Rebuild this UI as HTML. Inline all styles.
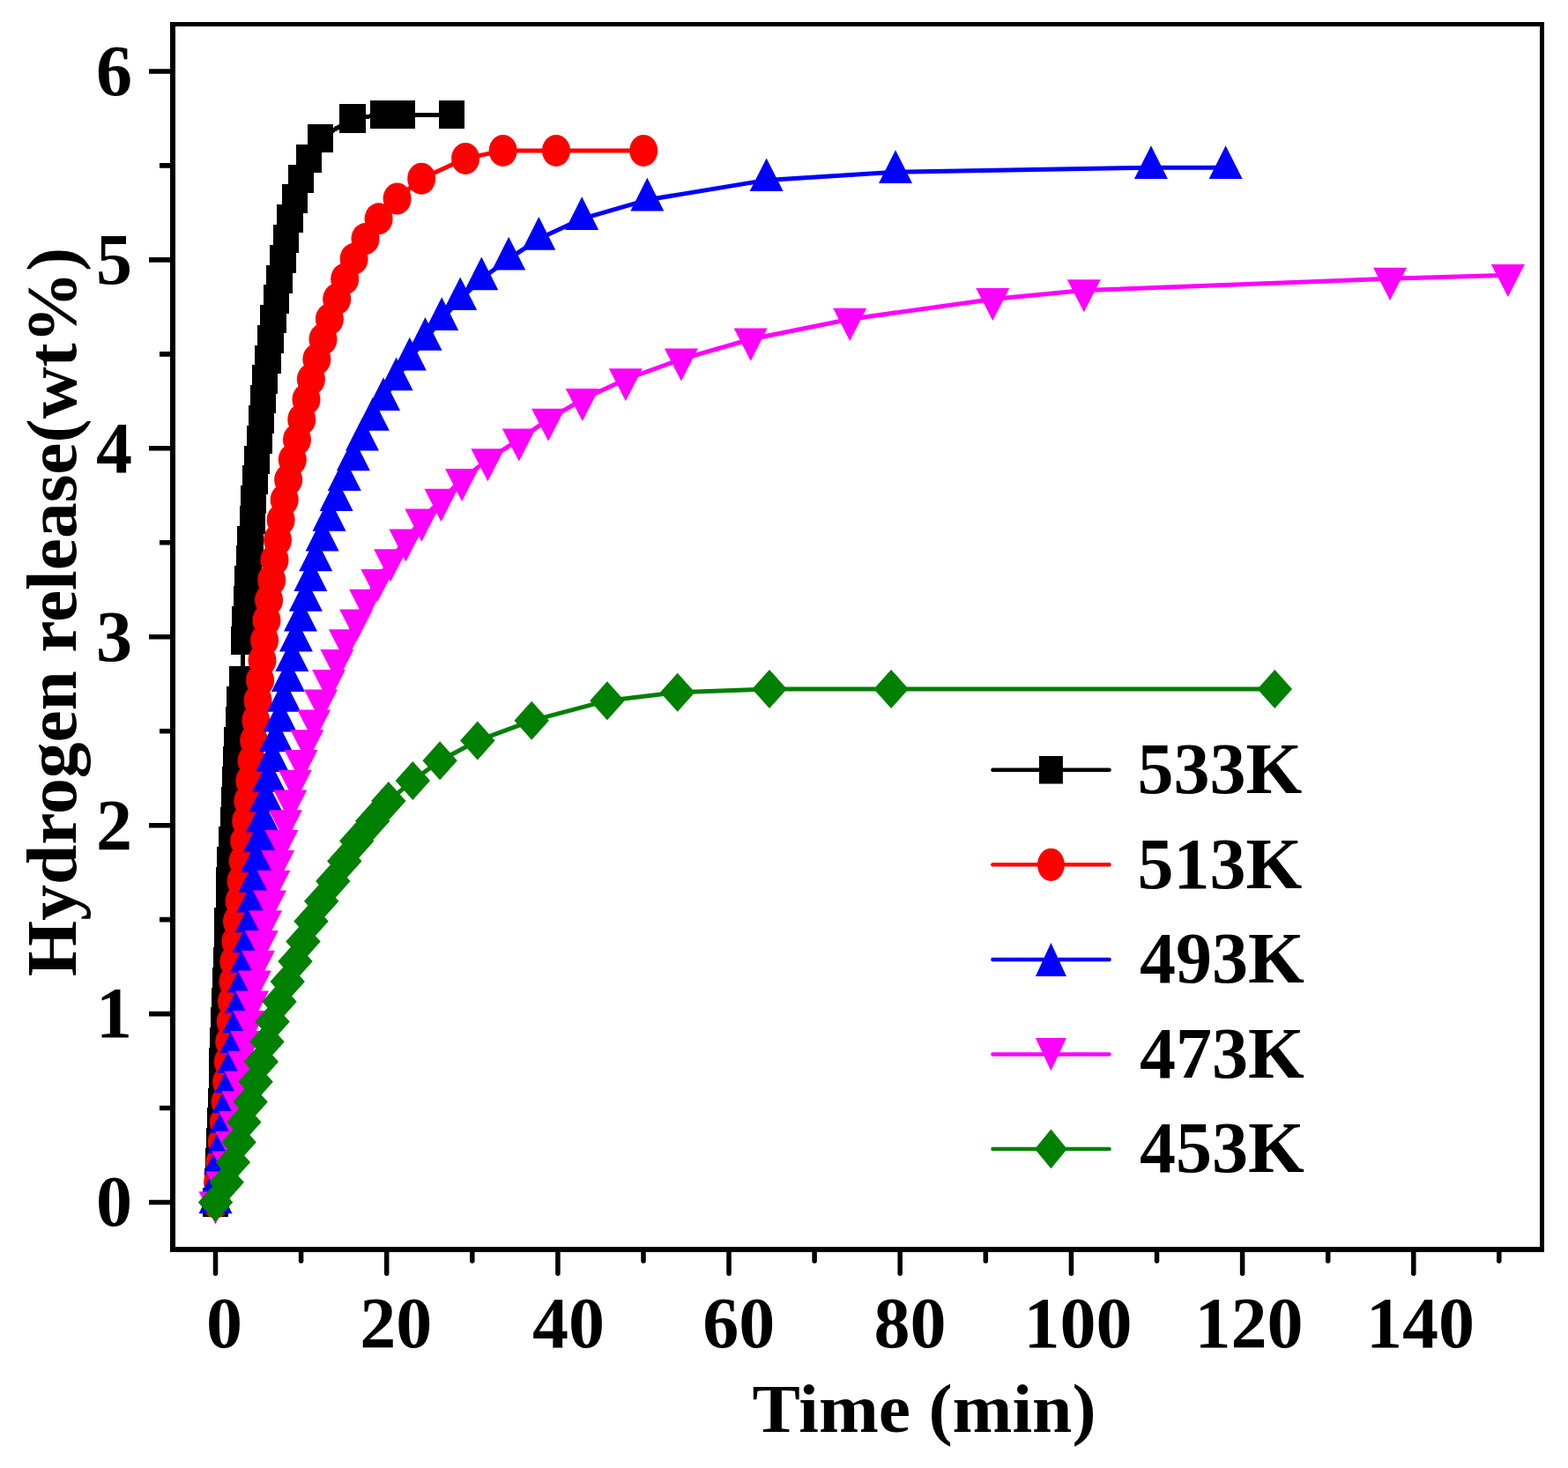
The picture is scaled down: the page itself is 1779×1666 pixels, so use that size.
<!DOCTYPE html>
<html><head><meta charset="utf-8"><title>Hydrogen release vs time</title>
<style>html,body{margin:0;padding:0;background:#fff;overflow:hidden}svg{display:block}</style>
</head><body>
<svg width="1779" height="1666" viewBox="0 0 1779 1666">
<rect width="1779" height="1666" fill="#fff"/>
<g shape-rendering="crispEdges">
<polyline fill="none" stroke="#000" stroke-width="5" stroke-linejoin="round" points="244.3,1364.5 246.4,1341.7 247.7,1318.9 248.5,1296.2 249.1,1273.4 250.3,1250.6 251.2,1227.8 251.9,1205 252.6,1182.3 253.6,1159.5 254.3,1136.7 255.5,1113.9 256.2,1091.1 257.1,1068.4 257.8,1045.6 259.2,1022.8 259.9,1000 261,977.2 262.5,954.5 264.2,931.7 265.7,908.9 266.7,886.1 267.6,863.3 268.8,840.6 270.5,817.8 272,795 274.1,772.2 276.8,726.7 277.7,703.9 279.2,681.1 280.6,658.3 282.4,635.5 283.9,612.8 286.2,590 287.6,567.2 289.3,544.4 291.4,521.6 294.1,498.9 296.8,476.1 298.6,453.3 300.4,430.5 304,407.7 307,385 310,362.2 313.7,339.4 317,316.6 321,293.8 324.5,271.1 329,248.3 334.4,225.5 341.6,202.7 350.5,179.9 363.1,157.2 400,134.4 434.4,130 445.5,130 456.5,130 512.5,130"/>
<path fill="#000" d="M229.7 1348.4h29.2v32.2h-29.2zM231.8 1325.6h29.2v32.2h-29.2zM233.1 1302.8h29.2v32.2h-29.2zM233.9 1280.1h29.2v32.2h-29.2zM234.5 1257.3h29.2v32.2h-29.2zM235.7 1234.5h29.2v32.2h-29.2zM236.6 1211.7h29.2v32.2h-29.2zM237.3 1188.9h29.2v32.2h-29.2zM238 1166.2h29.2v32.2h-29.2zM239 1143.4h29.2v32.2h-29.2zM239.7 1120.6h29.2v32.2h-29.2zM240.9 1097.8h29.2v32.2h-29.2zM241.6 1075h29.2v32.2h-29.2zM242.5 1052.3h29.2v32.2h-29.2zM243.2 1029.5h29.2v32.2h-29.2zM244.6 1006.7h29.2v32.2h-29.2zM245.3 983.9h29.2v32.2h-29.2zM246.4 961.1h29.2v32.2h-29.2zM247.9 938.4h29.2v32.2h-29.2zM249.6 915.6h29.2v32.2h-29.2zM251.1 892.8h29.2v32.2h-29.2zM252.1 870h29.2v32.2h-29.2zM253 847.2h29.2v32.2h-29.2zM254.2 824.5h29.2v32.2h-29.2zM255.9 801.7h29.2v32.2h-29.2zM257.4 778.9h29.2v32.2h-29.2zM259.5 756.1h29.2v32.2h-29.2zM262.2 710.6h29.2v32.2h-29.2zM263.1 687.8h29.2v32.2h-29.2zM264.6 665h29.2v32.2h-29.2zM266 642.2h29.2v32.2h-29.2zM267.8 619.4h29.2v32.2h-29.2zM269.3 596.7h29.2v32.2h-29.2zM271.6 573.9h29.2v32.2h-29.2zM273 551.1h29.2v32.2h-29.2zM274.7 528.3h29.2v32.2h-29.2zM276.8 505.5h29.2v32.2h-29.2zM279.5 482.8h29.2v32.2h-29.2zM282.2 460h29.2v32.2h-29.2zM284 437.2h29.2v32.2h-29.2zM285.8 414.4h29.2v32.2h-29.2zM289.4 391.6h29.2v32.2h-29.2zM292.4 368.9h29.2v32.2h-29.2zM295.4 346.1h29.2v32.2h-29.2zM299.1 323.3h29.2v32.2h-29.2zM302.4 300.5h29.2v32.2h-29.2zM306.4 277.7h29.2v32.2h-29.2zM309.9 255h29.2v32.2h-29.2zM314.4 232.2h29.2v32.2h-29.2zM319.8 209.4h29.2v32.2h-29.2zM327 186.6h29.2v32.2h-29.2zM335.9 163.8h29.2v32.2h-29.2zM348.5 141.1h29.2v32.2h-29.2zM385.4 118.3h29.2v32.2h-29.2zM419.8 113.9h29.2v32.2h-29.2zM430.9 113.9h29.2v32.2h-29.2zM441.9 113.9h29.2v32.2h-29.2zM497.9 113.9h29.2v32.2h-29.2z"/>
</g>
<polyline fill="none" stroke="#f00" stroke-width="5" stroke-linejoin="round" points="244.5,1364.5 247.1,1341.7 249.6,1318.9 251.8,1296.2 253.8,1273.4 255.6,1250.6 257.2,1227.8 258.9,1205 260.3,1182.3 261.8,1159.5 263,1136.7 264.5,1113.9 265.4,1091.1 267.4,1068.4 269,1045.6 271.6,1022.8 273.6,1000 275.7,977.2 277.3,954.5 279.2,931.7 281.3,908.9 283.4,886.1 285.6,863.3 288.1,840.6 290.4,817.8 292.6,795 295.1,772.2 297.5,749.4 300.1,726.7 302.5,703.9 305.1,681.1 308.2,658.3 311.5,635.5 315,612.8 318.6,590 322.7,567.2 327.2,544.4 331.8,521.6 337,498.9 342.3,476.1 347.5,453.3 352.9,430.5 359.4,407.7 366.5,385 373.9,362.2 382.2,339.4 391.2,316.6 401.6,293.8 414.5,271.1 429.6,248.3 450.6,225.5 478.2,202.7 528.1,179.9 570.7,170.9 631,170.9 730.2,170.9"/>
<g fill="#f00"><ellipse cx="244.5" cy="1364.5" rx="16" ry="18"/><ellipse cx="247.1" cy="1341.7" rx="16" ry="18"/><ellipse cx="249.6" cy="1318.9" rx="16" ry="18"/><ellipse cx="251.8" cy="1296.2" rx="16" ry="18"/><ellipse cx="253.8" cy="1273.4" rx="16" ry="18"/><ellipse cx="255.6" cy="1250.6" rx="16" ry="18"/><ellipse cx="257.2" cy="1227.8" rx="16" ry="18"/><ellipse cx="258.9" cy="1205" rx="16" ry="18"/><ellipse cx="260.3" cy="1182.3" rx="16" ry="18"/><ellipse cx="261.8" cy="1159.5" rx="16" ry="18"/><ellipse cx="263" cy="1136.7" rx="16" ry="18"/><ellipse cx="264.5" cy="1113.9" rx="16" ry="18"/><ellipse cx="265.4" cy="1091.1" rx="16" ry="18"/><ellipse cx="267.4" cy="1068.4" rx="16" ry="18"/><ellipse cx="269" cy="1045.6" rx="16" ry="18"/><ellipse cx="271.6" cy="1022.8" rx="16" ry="18"/><ellipse cx="273.6" cy="1000" rx="16" ry="18"/><ellipse cx="275.7" cy="977.2" rx="16" ry="18"/><ellipse cx="277.3" cy="954.5" rx="16" ry="18"/><ellipse cx="279.2" cy="931.7" rx="16" ry="18"/><ellipse cx="281.3" cy="908.9" rx="16" ry="18"/><ellipse cx="283.4" cy="886.1" rx="16" ry="18"/><ellipse cx="285.6" cy="863.3" rx="16" ry="18"/><ellipse cx="288.1" cy="840.6" rx="16" ry="18"/><ellipse cx="290.4" cy="817.8" rx="16" ry="18"/><ellipse cx="292.6" cy="795" rx="16" ry="18"/><ellipse cx="295.1" cy="772.2" rx="16" ry="18"/><ellipse cx="297.5" cy="749.4" rx="16" ry="18"/><ellipse cx="300.1" cy="726.7" rx="16" ry="18"/><ellipse cx="302.5" cy="703.9" rx="16" ry="18"/><ellipse cx="305.1" cy="681.1" rx="16" ry="18"/><ellipse cx="308.2" cy="658.3" rx="16" ry="18"/><ellipse cx="311.5" cy="635.5" rx="16" ry="18"/><ellipse cx="315" cy="612.8" rx="16" ry="18"/><ellipse cx="318.6" cy="590" rx="16" ry="18"/><ellipse cx="322.7" cy="567.2" rx="16" ry="18"/><ellipse cx="327.2" cy="544.4" rx="16" ry="18"/><ellipse cx="331.8" cy="521.6" rx="16" ry="18"/><ellipse cx="337" cy="498.9" rx="16" ry="18"/><ellipse cx="342.3" cy="476.1" rx="16" ry="18"/><ellipse cx="347.5" cy="453.3" rx="16" ry="18"/><ellipse cx="352.9" cy="430.5" rx="16" ry="18"/><ellipse cx="359.4" cy="407.7" rx="16" ry="18"/><ellipse cx="366.5" cy="385" rx="16" ry="18"/><ellipse cx="373.9" cy="362.2" rx="16" ry="18"/><ellipse cx="382.2" cy="339.4" rx="16" ry="18"/><ellipse cx="391.2" cy="316.6" rx="16" ry="18"/><ellipse cx="401.6" cy="293.8" rx="16" ry="18"/><ellipse cx="414.5" cy="271.1" rx="16" ry="18"/><ellipse cx="429.6" cy="248.3" rx="16" ry="18"/><ellipse cx="450.6" cy="225.5" rx="16" ry="18"/><ellipse cx="478.2" cy="202.7" rx="16" ry="18"/><ellipse cx="528.1" cy="179.9" rx="16" ry="18"/><ellipse cx="570.7" cy="170.9" rx="16" ry="18"/><ellipse cx="631" cy="170.9" rx="16" ry="18"/><ellipse cx="730.2" cy="170.9" rx="16" ry="18"/></g>
<polyline fill="none" stroke="#00f" stroke-width="5" stroke-linejoin="round" points="244.5,1364.5 247.4,1341.7 250.2,1318.9 254.1,1296.2 257,1273.4 259.9,1250.6 262.7,1227.8 265.6,1205 268.5,1182.3 271.3,1159.5 274.2,1136.7 277.1,1113.9 279.9,1091.1 282.8,1068.4 285.7,1045.6 287.5,1022.8 289.6,1000 292.2,977.2 294.9,954.5 298,931.7 301.6,908.9 305.1,886.1 308.9,863.3 313.1,840.6 317.7,817.8 322.2,795 326.9,772.2 331.3,749.4 335.9,726.7 341,703.9 346.9,681.1 352.4,658.3 358.2,635.5 365.6,612.8 373.5,590 381.6,567.2 390.8,544.4 400.9,521.6 411,498.9 422.8,476.1 435,453.3 449.6,430.5 464.8,407.7 482.5,385 501.2,362.2 522.2,339.4 546.3,316.6 577.2,293.8 611.3,271.1 660.2,248.3 734.3,226.8 869.6,204.4 1016,195.3 1305.9,190.2 1390.6,190.2"/>
<path fill="#00f" d="M244.5 1339.5L263.5 1377.2H225.5zM247.4 1316.7L266.4 1354.4H228.4zM250.2 1293.9L269.2 1331.6H231.2zM254.1 1271.2L273.1 1308.9H235.1zM257 1248.4L276 1286.1H238zM259.9 1225.6L278.9 1263.3H240.9zM262.7 1202.8L281.7 1240.5H243.7zM265.6 1180L284.6 1217.7H246.6zM268.5 1157.3L287.5 1195H249.5zM271.3 1134.5L290.3 1172.2H252.3zM274.2 1111.7L293.2 1149.4H255.2zM277.1 1088.9L296.1 1126.6H258.1zM279.9 1066.1L298.9 1103.8H260.9zM282.8 1043.4L301.8 1081.1H263.8zM285.7 1020.6L304.7 1058.3H266.7zM287.5 997.8L306.5 1035.5H268.5zM289.6 975L308.6 1012.7H270.6zM292.2 952.2L311.2 989.9H273.2zM294.9 929.5L313.9 967.2H275.9zM298 906.7L317 944.4H279zM301.6 883.9L320.6 921.6H282.6zM305.1 861.1L324.1 898.8H286.1zM308.9 838.3L327.9 876H289.9zM313.1 815.6L332.1 853.3H294.1zM317.7 792.8L336.7 830.5H298.7zM322.2 770L341.2 807.7H303.2zM326.9 747.2L345.9 784.9H307.9zM331.3 724.4L350.3 762.1H312.3zM335.9 701.7L354.9 739.4H316.9zM341 678.9L360 716.6H322zM346.9 656.1L365.9 693.8H327.9zM352.4 633.3L371.4 671H333.4zM358.2 610.5L377.2 648.2H339.2zM365.6 587.8L384.6 625.5H346.6zM373.5 565L392.5 602.7H354.5zM381.6 542.2L400.6 579.9H362.6zM390.8 519.4L409.8 557.1H371.8zM400.9 496.6L419.9 534.3H381.9zM411 473.9L430 511.6H392zM422.8 451.1L441.8 488.8H403.8zM435 428.3L454 466H416zM449.6 405.5L468.6 443.2H430.6zM464.8 382.7L483.8 420.4H445.8zM482.5 360L501.5 397.7H463.5zM501.2 337.2L520.2 374.9H482.2zM522.2 314.4L541.2 352.1H503.2zM546.3 291.6L565.3 329.3H527.3zM577.2 268.8L596.2 306.5H558.2zM611.3 246.1L630.3 283.8H592.3zM660.2 223.3L679.2 261H641.2zM734.3 201.8L753.3 239.5H715.3zM869.6 179.4L888.6 217.1H850.6zM1016 170.3L1035 208H997zM1305.9 165.2L1324.9 202.9H1286.9zM1390.6 165.2L1409.6 202.9H1371.6z"/>
<polyline fill="none" stroke="#f0f" stroke-width="5" stroke-linejoin="round" points="244.5,1364.5 252.8,1341.7 259.4,1318.9 263.2,1296.2 267.1,1273.4 270.1,1250.6 273.3,1227.8 277.1,1205 280,1182.3 283.2,1159.5 286,1136.7 288.9,1113.9 293,1091.1 296.8,1068.4 301.1,1045.6 306,1022.8 310.4,1000 315.2,977.2 319.4,954.5 324,931.7 329.3,908.9 334.8,886.1 341.5,863.3 348.4,840.6 356.2,817.8 364,795 373,772.2 382.4,749.4 392,726.7 404.2,703.9 415.1,681.1 428.4,658.3 443.1,635.5 460.4,612.8 478.4,590 500.5,567.2 524.1,544.4 553.4,521.6 588.8,498.9 622.1,476.1 660.8,453.3 709.9,430.5 772.9,407.7 851.7,385 964.2,362.2 1126.3,339.4 1229.8,329.6 1577.1,316.2 1710.9,312.3"/>
<path fill="#f0f" d="M244.5 1389.2L263.5 1352.2H225.5zM252.8 1366.4L271.8 1329.4H233.8zM259.4 1343.6L278.4 1306.6H240.4zM263.2 1320.9L282.2 1283.8H244.2zM267.1 1298.1L286.1 1261H248.1zM270.1 1275.3L289.1 1238.2H251.1zM273.3 1252.5L292.3 1215.5H254.3zM277.1 1229.7L296.1 1192.7H258.1zM280 1207L299 1169.9H261zM283.2 1184.2L302.2 1147.1H264.2zM286 1161.4L305 1124.4H267zM288.9 1138.6L307.9 1101.6H269.9zM293 1115.8L312 1078.8H274zM296.8 1093.1L315.8 1056H277.8zM301.1 1070.3L320.1 1033.2H282.1zM306 1047.5L325 1010.4H287zM310.4 1024.7L329.4 987.7H291.4zM315.2 1001.9L334.2 964.9H296.2zM319.4 979.2L338.4 942.1H300.4zM324 956.4L343 919.3H305zM329.3 933.6L348.3 896.5H310.3zM334.8 910.8L353.8 873.8H315.8zM341.5 888L360.5 851H322.5zM348.4 865.3L367.4 828.2H329.4zM356.2 842.5L375.2 805.4H337.2zM364 819.7L383 782.6H345zM373 796.9L392 759.9H354zM382.4 774.1L401.4 737.1H363.4zM392 751.4L411 714.3H373zM404.2 728.6L423.2 691.5H385.2zM415.1 705.8L434.1 668.7H396.1zM428.4 683L447.4 646H409.4zM443.1 660.2L462.1 623.2H424.1zM460.4 637.5L479.4 600.4H441.4zM478.4 614.7L497.4 577.6H459.4zM500.5 591.9L519.5 554.8H481.5zM524.1 569.1L543.1 532.1H505.1zM553.4 546.3L572.4 509.3H534.4zM588.8 523.6L607.8 486.5H569.8zM622.1 500.8L641.1 463.7H603.1zM660.8 478L679.8 440.9H641.8zM709.9 455.2L728.9 418.2H690.9zM772.9 432.4L791.9 395.4H753.9zM851.7 409.7L870.7 372.6H832.7zM964.2 386.9L983.2 349.8H945.2zM1126.3 364.1L1145.3 327H1107.3zM1229.8 354.3L1248.8 317.2H1210.8zM1577.1 340.9L1596.1 303.8H1558.1zM1710.9 337L1729.9 299.9H1691.9z"/>
<polyline fill="none" stroke="#008000" stroke-width="5" stroke-linejoin="round" points="244.5,1364.5 257.2,1341.7 264.3,1318.9 271.1,1296.2 276.8,1273.4 284.1,1250.6 290.1,1227.8 296.3,1205 303,1182.3 309.1,1159.5 317,1136.7 326.2,1113.9 335,1091.1 344,1068.4 353,1045.6 364.7,1022.8 377.8,1000 390.8,977.2 404.7,954.5 422.7,931.7 440.8,908.9 468.3,886.1 499.1,863.3 541.8,840.6 603.2,817.8 688.9,795.2 768.7,785.8 873,781.9 1011.1,781.9 1446.3,782"/>
<path fill="#008000" d="M244.5 1342.5L264.2 1364.5L244.5 1386.5L224.8 1364.5zM257.2 1319.7L276.9 1341.7L257.2 1363.7L237.5 1341.7zM264.3 1296.9L284 1318.9L264.3 1340.9L244.6 1318.9zM271.1 1274.2L290.8 1296.2L271.1 1318.2L251.4 1296.2zM276.8 1251.4L296.5 1273.4L276.8 1295.4L257.1 1273.4zM284.1 1228.6L303.8 1250.6L284.1 1272.6L264.4 1250.6zM290.1 1205.8L309.8 1227.8L290.1 1249.8L270.4 1227.8zM296.3 1183L316 1205L296.3 1227L276.6 1205zM303 1160.3L322.7 1182.3L303 1204.3L283.3 1182.3zM309.1 1137.5L328.8 1159.5L309.1 1181.5L289.4 1159.5zM317 1114.7L336.7 1136.7L317 1158.7L297.3 1136.7zM326.2 1091.9L345.9 1113.9L326.2 1135.9L306.5 1113.9zM335 1069.1L354.7 1091.1L335 1113.1L315.3 1091.1zM344 1046.4L363.7 1068.4L344 1090.4L324.3 1068.4zM353 1023.6L372.7 1045.6L353 1067.6L333.3 1045.6zM364.7 1000.8L384.4 1022.8L364.7 1044.8L345 1022.8zM377.8 978L397.5 1000L377.8 1022L358.1 1000zM390.8 955.2L410.5 977.2L390.8 999.2L371.1 977.2zM404.7 932.5L424.4 954.5L404.7 976.5L385 954.5zM422.7 909.7L442.4 931.7L422.7 953.7L403 931.7zM440.8 886.9L460.5 908.9L440.8 930.9L421.1 908.9zM468.3 864.1L488 886.1L468.3 908.1L448.6 886.1zM499.1 841.3L518.8 863.3L499.1 885.3L479.4 863.3zM541.8 818.6L561.5 840.6L541.8 862.6L522.1 840.6zM603.2 795.8L622.9 817.8L603.2 839.8L583.5 817.8zM688.9 773.2L708.6 795.2L688.9 817.2L669.2 795.2zM768.7 763.8L788.4 785.8L768.7 807.8L749 785.8zM873 759.9L892.7 781.9L873 803.9L853.3 781.9zM1011.1 759.9L1030.8 781.9L1011.1 803.9L991.4 781.9zM1446.3 760L1466 782L1446.3 804L1426.6 782z"/>
<path fill="#000" d="M193 25h1559v5H193zM193 1415h1559v6H193zM193 25h6v1396h-6zM1747 25h5v1396h-5z"/>
<path fill="none" stroke="#000" stroke-width="5.6" d="M169 1364.5H194M181 1257.5H194M169 1150.6H194M181 1043.6H194M169 936.7H194M181 829.7H194M169 722.7H194M181 615.8H194M169 508.8H194M181 401.9H194M169 294.9H194M181 187.9H194M169 81H194"/><path fill="none" stroke="#000" stroke-width="5.5" stroke-linecap="round" d="M244.5 1419V1445.2M341.6 1419V1431M438.7 1419V1445.2M535.8 1419V1431M632.9 1419V1445.2M730 1419V1431M827 1419V1445.2M924.1 1419V1431M1021.2 1419V1445.2M1118.3 1419V1431M1215.4 1419V1445.2M1312.5 1419V1431M1409.6 1419V1445.2M1506.7 1419V1431M1603.8 1419V1445.2M1700.8 1419V1431"/>
<g font-family="'Liberation Serif', 'Times New Roman', serif" font-weight="bold" font-size="82" fill="#000">
<text x="254.4" y="1529" text-anchor="middle">0</text><text x="449.2" y="1529" text-anchor="middle">20</text><text x="645.1" y="1529" text-anchor="middle">40</text><text x="838.3" y="1529" text-anchor="middle">60</text><text x="1032.5" y="1529" text-anchor="middle">80</text><text x="1223.1" y="1529" text-anchor="middle">100</text><text x="1417" y="1529" text-anchor="middle">120</text><text x="1611.6" y="1529" text-anchor="middle">140</text><text x="150" y="1391.3" text-anchor="end">0</text><text x="150" y="1177.4" text-anchor="end">1</text><text x="150" y="963.5" text-anchor="end">2</text><text x="150" y="749.5" text-anchor="end">3</text><text x="150" y="535.6" text-anchor="end">4</text><text x="150" y="321.7" text-anchor="end">5</text><text x="150" y="107.8" text-anchor="end">6</text>
<path stroke="#000" stroke-width="4.4" stroke-linecap="round" d="M1126.4 873.8H1258.6"/><path fill="#000" d="M1178.9 858h27v31.5h-27z"/><text x="1290.5" y="900.1">533K</text><path stroke="#f00" stroke-width="4.4" stroke-linecap="round" d="M1126.4 981.3H1258.6"/><ellipse fill="#f00" cx="1192.4" cy="981.3" rx="15.4" ry="18.6"/><text x="1290.5" y="1007.6">513K</text><path stroke="#00f" stroke-width="4.4" stroke-linecap="round" d="M1126.4 1089H1258.6"/><path fill="#00f" d="M1192.4 1070L1209.9 1108H1174.9z"/><text x="1293" y="1115.3">493K</text><path stroke="#f0f" stroke-width="4.4" stroke-linecap="round" d="M1126.4 1196.5H1258.6"/><path fill="#f0f" d="M1192.4 1215.3L1209.9 1177.9H1174.9z"/><text x="1293" y="1222.8">473K</text><path stroke="#008000" stroke-width="4.4" stroke-linecap="round" d="M1126.4 1303.9H1258.6"/><path fill="#008000" d="M1192.4 1281.6L1210.7 1303.9L1192.4 1326.2L1174.1 1303.9z"/><text x="1293" y="1330.2">453K</text>
<text transform="translate(1048.5 1625) scale(1 0.967)" text-anchor="middle" font-size="81.5">Time (min)</text>
<text transform="translate(86 694.5) rotate(-90) scale(1 0.975)" text-anchor="middle" font-size="81.5">Hydrogen release(wt%)</text>
</g>
</svg>
</body></html>
